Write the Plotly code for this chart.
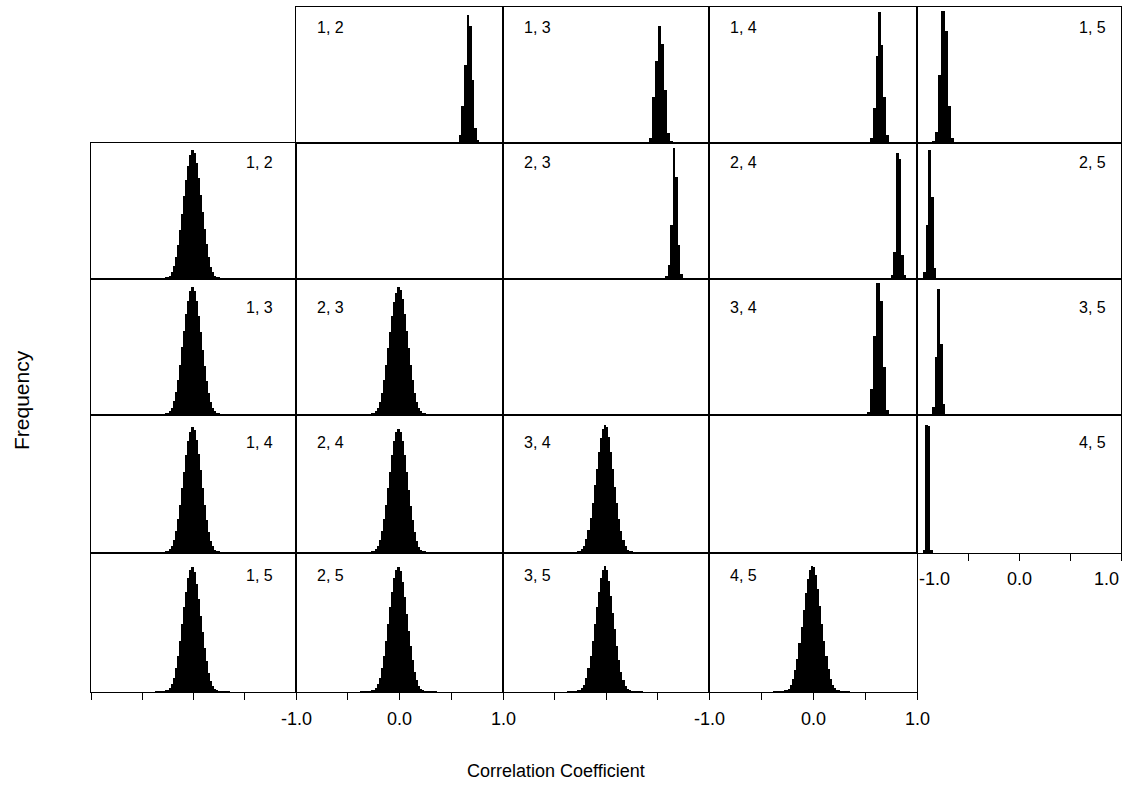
import plotly.graph_objects as go

# ---------------- data ----------------
# lower-triangle histograms: common bin centres (bin width 0.02)
lower_x = [-0.37, -0.35, -0.33, -0.31, -0.29, -0.27, -0.25, -0.23, -0.21, -0.19,
           -0.17, -0.15, -0.13, -0.11, -0.09, -0.07, -0.05, -0.03, -0.01, 0.01,
           0.03, 0.05, 0.07, 0.09, 0.11, 0.13, 0.15, 0.17, 0.19, 0.21,
           0.23, 0.25, 0.27, 0.29, 0.31, 0.33, 0.35]
lower_bw = 0.02

low_12 = [0.1, 0.15, 0.25, 0.35, 0.5, 0.8, 1.3, 2.5, 5, 9.5, 16, 25, 36, 48, 61, 73, 83, 91, 95,
          93, 85, 74, 62, 49, 37, 26, 16, 9, 5, 2.5, 1.3, 0.8, 0.5, 0.35, 0.25, 0.15, 0.1]
low_13 = [0.1, 0.2, 0.3, 0.4, 0.6, 0.9, 1.5, 2.8, 5.5, 10, 17, 26, 37, 50, 62, 74, 84, 91, 94,
          91, 84, 73, 61, 48, 36, 25, 16, 9.5, 5, 2.6, 1.4, 0.8, 0.5, 0.35, 0.25, 0.15, 0.1]
low_14 = [0.1, 0.15, 0.25, 0.4, 0.6, 0.9, 1.4, 2.6, 5, 9.5, 16, 25, 35, 47, 59, 71, 81, 88, 91,
          89, 82, 72, 60, 47, 35, 24, 15, 9, 4.8, 2.4, 1.3, 0.8, 0.5, 0.35, 0.25, 0.15, 0.1]
low_15 = [0.1, 0.15, 0.25, 0.4, 0.6, 1, 1.6, 3, 5.5, 10, 17, 26, 37, 49, 61, 72, 82, 88, 90,
          86, 78, 67, 55, 43, 32, 22, 14, 8, 4.3, 2.2, 1.2, 0.7, 0.45, 0.3, 0.2, 0.15, 0.1]
low_23 = [0.1, 0.15, 0.25, 0.4, 0.6, 0.9, 1.4, 2.7, 5.2, 9.8, 16.5, 25.5, 36.5, 49, 61, 73, 83, 90, 94,
          92, 85, 74, 62, 49, 37, 26, 16.5, 9.5, 5, 2.6, 1.4, 0.8, 0.5, 0.35, 0.25, 0.15, 0.1]
low_24 = [0.1, 0.15, 0.25, 0.4, 0.6, 0.9, 1.4, 2.6, 5, 9.5, 16, 25, 35, 47, 59, 71, 81, 88, 90,
          88, 81, 71, 59, 46, 34, 24, 15, 8.5, 4.6, 2.4, 1.3, 0.8, 0.5, 0.35, 0.25, 0.15, 0.1]
low_25 = [0.1, 0.15, 0.25, 0.4, 0.6, 1, 1.6, 2.9, 5.5, 10, 17, 26, 37, 49, 61, 72, 82, 88, 90,
          87, 79, 68, 56, 44, 33, 23, 14.5, 8.5, 4.5, 2.3, 1.2, 0.7, 0.45, 0.3, 0.2, 0.15, 0.1]
low_34 = [0.1, 0.15, 0.25, 0.4, 0.6, 0.9, 1.4, 2.7, 5.2, 9.8, 16.5, 25.5, 36.5, 49, 61, 73, 83, 90, 93,
          91, 84, 73, 61, 48, 36, 25, 16, 9.3, 4.9, 2.5, 1.3, 0.8, 0.5, 0.35, 0.25, 0.15, 0.1]
low_35 = [0.1, 0.15, 0.25, 0.4, 0.6, 1, 1.5, 2.8, 5.3, 10, 17, 26, 37, 49, 61, 72, 82, 88, 91,
          88, 80, 69, 57, 45, 33, 23, 14.5, 8.5, 4.5, 2.3, 1.2, 0.7, 0.45, 0.3, 0.2, 0.15, 0.1]
low_45 = [0.1, 0.15, 0.25, 0.35, 0.5, 0.8, 1.3, 2.4, 4.7, 9, 15.5, 24, 35, 47, 59, 71, 81, 88, 91,
          90, 84, 74, 62, 49, 37, 26, 16.5, 9.5, 5, 2.6, 1.4, 0.8, 0.5, 0.35, 0.25, 0.15, 0.1]

# upper-triangle histograms: bin centres, counts, bin width
up_12_x = [0.585, 0.61, 0.635, 0.66, 0.685, 0.71, 0.735, 0.76]
up_12_y = [6, 27, 57, 94, 86, 46, 11, 2]
up_12_bw = 0.025
up_13_x = [0.43, 0.46, 0.49, 0.52, 0.55, 0.58, 0.61, 0.64]
up_13_y = [4, 34, 60, 86, 73, 39, 7, 1]
up_13_bw = 0.03
up_14_x = [0.565, 0.59, 0.615, 0.64, 0.665, 0.69, 0.715]
up_14_y = [4, 26, 64, 96, 72, 34, 6]
up_14_bw = 0.025
up_15_x = [-0.835, -0.805, -0.775, -0.745, -0.715, -0.685, -0.655]
up_15_y = [1, 8, 50, 97, 82, 27, 4]
up_15_bw = 0.03
up_23_x = [0.585, 0.61, 0.635, 0.66, 0.685, 0.71, 0.735]
up_23_y = [2, 10, 40, 96, 75, 25, 4]
up_23_bw = 0.025
up_24_x = [0.76, 0.785, 0.81, 0.835, 0.86, 0.885]
up_24_y = [3, 20, 93, 88, 18, 3]
up_24_bw = 0.025
up_25_x = [-0.925, -0.9, -0.875, -0.85, -0.825]
up_25_y = [5, 40, 95, 60, 8]
up_25_bw = 0.025
up_34_x = [0.535, 0.565, 0.595, 0.625, 0.655, 0.685, 0.715]
up_34_y = [2, 19, 58, 97, 84, 35, 4]
up_34_bw = 0.03
up_35_x = [-0.8375, -0.8125, -0.7875, -0.7625, -0.7375]
up_35_y = [6, 43, 93, 52, 8]
up_35_bw = 0.025
up_45_x = [-0.9325, -0.9075, -0.8825, -0.8575]
up_45_y = [2, 93, 92, 2]
up_45_bw = 0.025

axis_ticks = [-1.0, -0.5, 0.0, 0.5, 1.0]
axis_tick_labels = ["-1.0", "0.0", "1.0"]
axis_label_vals = [-1.0, 0.0, 1.0]

# ---------------- layout geometry (pixels) ----------------
W, H = 1128, 787
col_left = [91, 296, 503, 709, 917]
col_right = [296, 503, 709, 917, 1121]
row_top = [7, 143, 279, 415, 553]
row_bottom = [143, 279, 415, 553, 692]
label_dy = [20, 20, 28, 27, 22]

FONT = "Liberation Sans, Arial, Helvetica, sans-serif"

# (label, row, col, x, y, bin width, label side)
panels = [
    ("1, 2", 0, 1, up_12_x, up_12_y, up_12_bw, "left"),
    ("1, 3", 0, 2, up_13_x, up_13_y, up_13_bw, "left"),
    ("1, 4", 0, 3, up_14_x, up_14_y, up_14_bw, "left"),
    ("1, 5", 0, 4, up_15_x, up_15_y, up_15_bw, "right"),
    ("2, 3", 1, 2, up_23_x, up_23_y, up_23_bw, "left"),
    ("2, 4", 1, 3, up_24_x, up_24_y, up_24_bw, "left"),
    ("2, 5", 1, 4, up_25_x, up_25_y, up_25_bw, "right"),
    ("3, 4", 2, 3, up_34_x, up_34_y, up_34_bw, "left"),
    ("3, 5", 2, 4, up_35_x, up_35_y, up_35_bw, "right"),
    ("4, 5", 3, 4, up_45_x, up_45_y, up_45_bw, "right"),
    ("1, 2", 1, 0, lower_x, low_12, lower_bw, "right"),
    ("1, 3", 2, 0, lower_x, low_13, lower_bw, "right"),
    ("1, 4", 3, 0, lower_x, low_14, lower_bw, "right"),
    ("1, 5", 4, 0, lower_x, low_15, lower_bw, "right"),
    ("2, 3", 2, 1, lower_x, low_23, lower_bw, "left"),
    ("2, 4", 3, 1, lower_x, low_24, lower_bw, "left"),
    ("2, 5", 4, 1, lower_x, low_25, lower_bw, "left"),
    ("3, 4", 3, 2, lower_x, low_34, lower_bw, "left"),
    ("3, 5", 4, 2, lower_x, low_35, lower_bw, "left"),
    ("4, 5", 4, 3, lower_x, low_45, lower_bw, "left"),
    (None, 1, 1, [], [], lower_bw, None),
    (None, 2, 2, [], [], lower_bw, None),
    (None, 3, 3, [], [], lower_bw, None),
]

fig = go.Figure()
layout = {}
annotations = []

for n, (lab, r, c, xs, ys, bw, side) in enumerate(panels, start=1):
    xa = "x" if n == 1 else f"x{n}"
    ya = "y" if n == 1 else f"y{n}"
    xkey = "xaxis" if n == 1 else f"xaxis{n}"
    ykey = "yaxis" if n == 1 else f"yaxis{n}"
    fig.add_trace(go.Bar(x=xs, y=ys, width=bw, xaxis=xa, yaxis=ya,
                         marker=dict(color="black", line=dict(width=0)),
                         hoverinfo="skip", showlegend=False))
    has_ticks = (r == 4) or (r == 3 and c == 4)
    layout[xkey] = dict(
        domain=[col_left[c] / W, col_right[c] / W], anchor=ya,
        range=[-1, 1], showgrid=False, zeroline=False,
        showline=True, mirror=True, linecolor="black", linewidth=1,
        ticks="outside" if has_ticks else "", ticklen=7, tickwidth=1,
        tickcolor="black", tickvals=axis_ticks, showticklabels=False,
        fixedrange=True,
    )
    layout[ykey] = dict(
        domain=[1 - row_bottom[r] / H, 1 - row_top[r] / H], anchor=xa,
        range=[0, 100], showgrid=False, zeroline=False,
        showline=True, mirror=True, linecolor="black", linewidth=1,
        ticks="", showticklabels=False, fixedrange=True,
    )
    if lab is not None:
        if side == "left":
            ax, anc, shift = 0, "left", 19
        else:
            ax, anc, shift = 1, "right", -(13 if c == 4 else 21)
        annotations.append(dict(
            text=lab, xref=f"{xa} domain", yref=f"{ya} domain",
            x=ax, y=1, xanchor=anc, yanchor="middle",
            xshift=shift, yshift=-label_dy[r], showarrow=False,
            font=dict(family=FONT, size=16, color="black")))
    # tick labels
    if (r == 4 and c in (1, 3)) or (r == 3 and c == 4):
        ytop = (row_bottom[r] + (14 if r == 3 else 15)) / H
        for v, t in zip(axis_label_vals, axis_tick_labels):
            if r == 3:
                anc = {-1.0: "left", 0.0: "center", 1.0: "right"}[v]
            else:
                anc = "center"
            annotations.append(dict(
                text=t, xref=xa, yref="paper", x=v, y=1 - ytop,
                xanchor=anc, yanchor="top", showarrow=False,
                font=dict(family=FONT, size=18, color="black")))

annotations.append(dict(text="Frequency", xref="paper", yref="paper",
                        x=21 / W, y=1 - 400 / H, xanchor="center", yanchor="middle",
                        textangle=-90, showarrow=False,
                        font=dict(family=FONT, size=21, color="black")))
annotations.append(dict(text="Correlation Coefficient", xref="paper", yref="paper",
                        x=556 / W, y=1 - 771 / H, xanchor="center", yanchor="middle",
                        showarrow=False,
                        font=dict(family=FONT, size=18, color="black")))

fig.update_layout(
    width=W, height=H,
    margin=dict(l=0, r=0, t=0, b=0, pad=0),
    paper_bgcolor="white", plot_bgcolor="white",
    showlegend=False, bargap=0,
    annotations=annotations,
    **layout,
)

fig.write_html("out.html")
